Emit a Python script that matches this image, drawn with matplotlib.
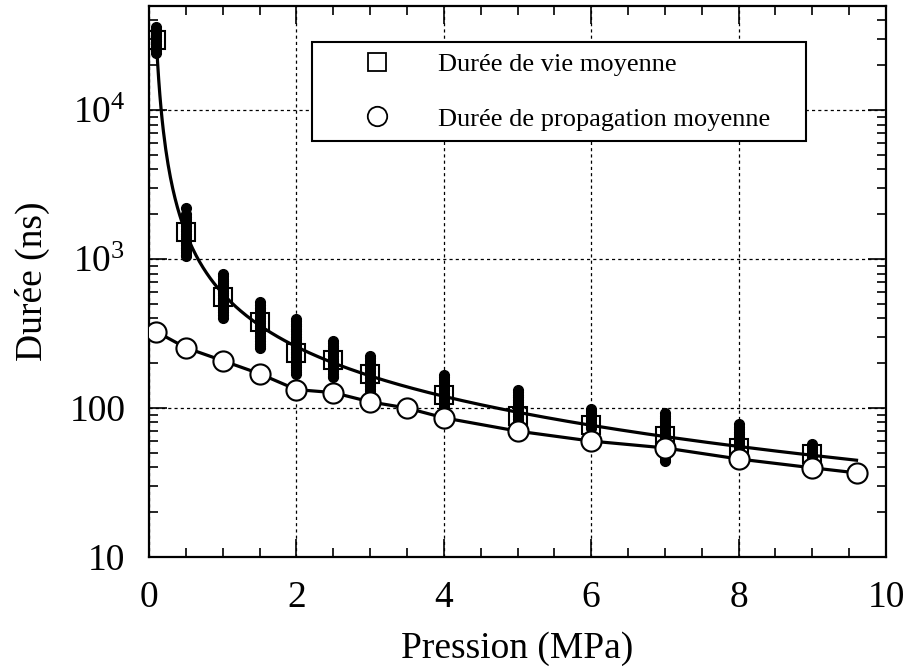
import numpy as np
import matplotlib
matplotlib.use("Agg")
import matplotlib.pyplot as plt
from matplotlib.lines import Line2D
from matplotlib.ticker import MultipleLocator, LogLocator, FixedLocator, FixedFormatter, NullFormatter

plt.rcParams['font.family'] = ['Liberation Serif', 'DejaVu Serif']
plt.rcParams['mathtext.fontset'] = 'custom'
plt.rcParams['mathtext.rm'] = 'Liberation Serif'
plt.rcParams['mathtext.it'] = 'Liberation Serif:italic'

# ---- data -------------------------------------------------------------
pression_vie = [0.1, 0.5, 1.0, 1.5, 2.0, 2.5, 3.0, 4.0, 5.0, 6.0, 7.0, 8.0, 9.0]
duree_vie = [29500, 1530, 560, 380, 235, 211, 170, 123, 89, 77, 65, 54, 49]

pression_prop = [0.1, 0.5, 1.0, 1.5, 2.0, 2.5, 3.0, 3.5, 4.0, 5.0, 6.0, 7.0, 8.0, 9.0, 9.6]
duree_prop = [325, 254, 208, 170, 133, 127, 110, 100, 86, 70, 60, 54, 45.5, 39.7, 36.7]

# individual lifetime measurements (black dots)
mesures_p01 = [36000, 35000, 34000, 33000, 32000, 31000, 30000, 29000, 28000,
               27000, 26000, 25000, 24000]
mesures_p05 = [2200, 2000, 1930, 1860, 1790, 1720, 1660, 1600, 1540, 1480, 1430,
               1380, 1330, 1280, 1235, 1190, 1150, 1110, 1070, 1050]
mesures_p10 = [800, 770, 740, 715, 690, 665, 640, 615, 590, 570, 550, 530, 510,
               490, 472, 455, 438, 420, 405]
mesures_p15 = [519, 488, 470, 452, 435, 418, 402, 386, 371, 357, 343, 330, 317,
               305, 293, 282, 271, 262, 254]
mesures_p20 = [398, 383, 368, 354, 340, 327, 314, 302, 290, 279, 268, 258, 248,
               238, 229, 220, 211, 203, 195, 188, 181, 175, 170]
mesures_p25 = [284, 273, 262, 252, 242, 233, 224, 215, 207, 199, 191, 184, 177,
               170, 165, 162]
mesures_p30 = [225, 216, 208, 200, 192, 185, 178, 171, 164, 158, 152, 146, 140,
               135, 131, 127]
mesures_p40 = [167, 161, 155, 149, 143, 137, 132, 127, 122, 117, 113, 108, 104, 100]
mesures_p50 = [133, 128, 123, 118, 114, 110, 106, 102, 98, 94, 91, 88, 85, 82]
mesures_p60 = [99, 95, 92, 89, 86, 83, 80, 77, 75, 73]
mesures_p70 = [93, 89, 86, 83, 80, 77, 74, 71, 68, 66, 63, 61, 59, 57, 55, 53,
               51, 49, 47, 45, 44]
mesures_p80 = [78, 75, 72, 69, 67, 64, 62, 60, 58, 56, 54]
mesures_p90 = [57, 55, 53, 51, 49, 47, 46]

mesures = [(0.1, mesures_p01), (0.5, mesures_p05), (1.0, mesures_p10),
           (1.5, mesures_p15), (2.0, mesures_p20), (2.5, mesures_p25),
           (3.0, mesures_p30), (4.0, mesures_p40), (5.0, mesures_p50),
           (6.0, mesures_p60), (7.0, mesures_p70), (8.0, mesures_p80),
           (9.0, mesures_p90)]

x_ticks = [0, 2, 4, 6, 8, 10]
x_ticklabels = ['0', '2', '4', '6', '8', '10']
y_ticks = [10, 100, 1000, 10000]
y_ticklabels = ['10', '100', r'$\mathregular{10^3}$', r'$\mathregular{10^4}$']

label_vie = 'Durée de vie moyenne'
label_prop = 'Durée de propagation moyenne'

# ---- smooth fitted curve through the mean lifetimes (log-log polynomial) --
lx = np.log10(pression_vie)
ly = np.log10(duree_vie)
coef = np.polyfit(lx, ly, 3)
p_curve = np.linspace(pression_vie[0], max(pression_prop), 600)
d_curve = 10 ** np.polyval(coef, np.log10(p_curve))

# ---- figure ------------------------------------------------------------
fig = plt.figure(figsize=(9.06, 6.70), dpi=100)
ax = fig.add_axes([149 / 906, 1 - 557 / 670, (886 - 149) / 906, (557 - 6) / 670])
ax.set_yscale('log')
ax.set_xlim(0, 10)
ax.set_ylim(10, 5e4)

ax.grid(True, which='major', color='black', linestyle=(0, (2.5, 2.5)), linewidth=0.9, zorder=0)
ax.set_axisbelow(True)

ax.plot(p_curve, d_curve, color='black', linewidth=2.3, zorder=2)
ax.plot(pression_prop, duree_prop, color='black', linewidth=2.3, zorder=2)

ax.plot(pression_vie, duree_vie, linestyle='none', marker='s', markersize=12.5,
        markerfacecolor='none', markeredgecolor='black', markeredgewidth=1.5, zorder=3)

for p, vals in mesures:
    ax.plot([p] * len(vals), vals, linestyle='none', marker='o', markersize=7,
            color='black', zorder=4)

ax.plot(pression_prop, duree_prop, linestyle='none', marker='o', markersize=14.5,
        markerfacecolor='white', markeredgecolor='black', markeredgewidth=1.5, zorder=5)

# ticks
ax.xaxis.set_major_locator(FixedLocator(x_ticks))
ax.xaxis.set_major_formatter(FixedFormatter(x_ticklabels))
ax.xaxis.set_minor_locator(MultipleLocator(0.5))
ax.yaxis.set_major_locator(FixedLocator(y_ticks))
ax.yaxis.set_major_formatter(FixedFormatter(y_ticklabels))
ax.yaxis.set_minor_locator(LogLocator(base=10, subs=np.arange(2, 10)))
ax.yaxis.set_minor_formatter(NullFormatter())

ax.tick_params(which='both', direction='in', top=True, right=True, width=1.2)
ax.tick_params(which='major', length=13, labelsize=27, pad=17)
ax.tick_params(which='minor', length=6.5)

for s in ax.spines.values():
    s.set_linewidth(1.6)

ax.set_xlabel('Pression (MPa)', fontsize=27, labelpad=12)
ax.set_ylabel('Durée (ns)', fontsize=27, labelpad=14)

handles = [
    Line2D([], [], linestyle='none', marker='s', markersize=12.5, markerfacecolor='white',
           markeredgecolor='black', markeredgewidth=1.3),
    Line2D([], [], linestyle='none', marker='o', markersize=14, markerfacecolor='white',
           markeredgecolor='black', markeredgewidth=1.3),
]
leg = ax.legend(handles, [label_vie, label_prop], loc='upper left',
                bbox_to_anchor=(0.221, 0.753, 0.670, 0.182), mode='expand',
                borderaxespad=0, fontsize=19, frameon=True, fancybox=False,
                edgecolor='black', framealpha=1, borderpad=0.4, labelspacing=1.19,
                handlelength=4.12, handletextpad=0.25)
leg.get_frame().set_linewidth(1.5)
leg.set_zorder(10)

fig.savefig('out.png', dpi=100)
